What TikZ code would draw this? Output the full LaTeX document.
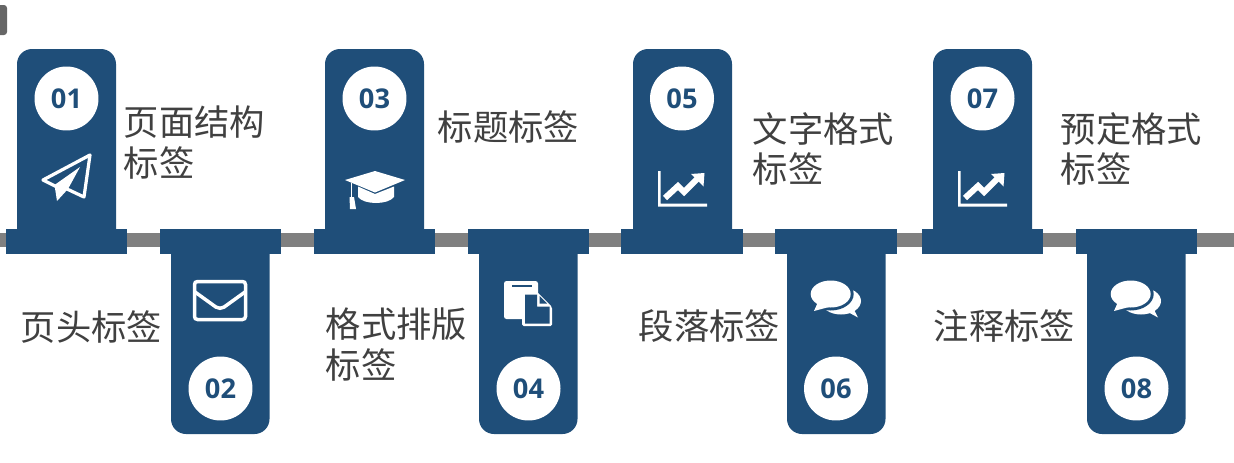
\documentclass[tikz,border=0pt]{standalone}
\usepackage{fontspec}
\usepackage{xcolor}
\usetikzlibrary{arrows.meta,positioning}
\newfontfamily\cjk{Noto Sans CJK SC}
\newfontfamily\numfont{Open Sans}
\definecolor{tagblue}{HTML}{1F4E79}
\definecolor{taggray}{HTML}{808080}
\definecolor{tagtext}{HTML}{404040}

\begin{document}
\begin{tikzpicture}[
  x=0.02cm, y=-0.02cm,
  post/.style={fill=tagblue},
  tab/.style={fill=tagblue, draw=none, inner sep=0, minimum width=2.43cm, minimum height=0.5cm},
  num/.style={circle, fill=white, inner sep=0, minimum size=1.28cm, text=tagblue, font=\numfont\bfseries\fontsize{15.5}{17}\selectfont},
  tag/.style={anchor=west, inner sep=0, align=left, text=tagtext, font=\cjk\fontsize{20.1}{23.2}\selectfont},
  chartline/.pic={
    \fill[white] (658,171) -- (660.5,171) -- (660.5,203.5) -- (707,203.5) -- (707,206.7) -- (658,206.7) -- cycle;
    \draw[white, line width=0.12cm] (665,198) -- (678,186) -- (684,192) -- (697,179);
    \fill[white] (704.5,173) -- (691,174) -- (703.5,186.5) -- cycle;
  },
  chatpair/.pic={
    \fill[white] (841,301) ellipse (20 and 13.5);
    \fill[white] (846,311) -- (858,317.5) -- (852,306) -- cycle;
    \fill[tagblue] (830.7,294) ellipse (23 and 16.5);
    \fill[white] (830.7,294) ellipse (20 and 13.5);
    \fill[white] (818,302) -- (814,311) -- (829,307) -- cycle;
  }
]
\useasboundingbox (0,0) rectangle (1234,463);

% Corner stub
\fill[black!60, rounded corners=0.06cm] (-8,5) rectangle (7,35);

% Timeline
\fill[taggray] (0,233) rectangle (1234,247);

% Upper posts
\foreach \x/\n/\s/\w in {17/1/01/66.5, 325/3/03/374.5, 633/5/05/682, 933/7/07/982.5} {
  \fill[post, rounded corners=0.3cm] (\x,230) -- (\x,49) -- ++(99,0) [sharp corners] -- ++(0,181) -- cycle;
  \node[tab] (tab\n) at (\w,241.5) {};
  \node[num] (num\n) at (\w,98.5) {\s};
}

% Lower posts
\foreach \x/\n/\s/\w in {171/2/02/220.5, 479/4/04/528.5, 787/6/06/836, 1087/8/08/1136.5} {
  \fill[post, rounded corners=0.3cm] (\x,253) -- (\x,434) -- ++(98.5,0) [sharp corners] -- ++(0,-181) -- cycle;
  \node[tab] (tab\n) at (\w,241.5) {};
  \node[num] (num\n) at (\w,388.5) {\s};
}

% Labels
\node[tag] (tag1) at (123.5,142.5) {页面结构\\标签};
\node[tag] (tag2) at (20.5,327.5) {页头标签};
\node[tag] (tag3) at (437.5,126.5) {标题标签};
\node[tag] (tag4) at (325.5,344.5) {格式排版\\标签};
\node[tag] (tag5) at (752.5,149) {文字格式\\标签};
\node[tag] (tag6) at (638.5,326.5) {段落标签};
\node[tag] (tag7) at (1060.5,149) {预定格式\\标签};
\node[tag] (tag8) at (933.5,326.5) {注释标签};

% Paper plane
\draw[white, line width=0.065cm, line join=round] (90,155) -- (43,180) -- (56,186.5) -- (67,189) -- (84,197) -- cycle;
\fill[white] (54.5,185) -- (80,167) -- (68,189) -- (57,201) -- cycle;

% Envelope
\draw[white, line width=0.07cm, rounded corners=0.06cm] (194.5,281.5) rectangle (245.5,319.5);
\draw[white, line width=0.07cm, rounded corners=0.1cm] (195,292) -- (220,310) -- (245,292);

% Mortarboard
\fill[white] (345,180) -- (375,171) -- (405,180) -- (375,192.5) -- cycle;
\fill[white] (358,186.5) -- (375,194) -- (394,186.5) -- (394,197) .. controls (388,205) and (364,205) .. (358,197) -- cycle;
\draw[white, line width=0.035cm] (351.5,183) -- (351.5,199);
\fill[white] (349.5,197) -- (354,197) -- (356,209) -- (350,209) -- cycle;

% Documents
\fill[white, rounded corners=0.05cm] (504,281) rectangle (538,319);
\fill[tagblue] (512,284.5) rectangle (532,286.5);
\fill[white, rounded corners=0.03cm] (522,292) -- (537,292) -- (552,307) -- (552,326) -- (522,326) -- cycle;
\fill[tagblue] (525,294.5) -- (537,294.5) -- (537,306.5) -- (549.5,306.5) -- (549.5,323.5) -- (525,323.5) -- cycle;
\fill[tagblue] (539.5,296) -- (539.5,303.5) -- (547,303.5) -- cycle;

% Charts and chats
\pic (chart5) at (0,0) {chartline};
\pic (chart7) at (300,0) {chartline};
\pic (chat6) at (0,0) {chatpair};
\pic (chat8) at (300,0) {chatpair};

\end{tikzpicture}
\end{document}
